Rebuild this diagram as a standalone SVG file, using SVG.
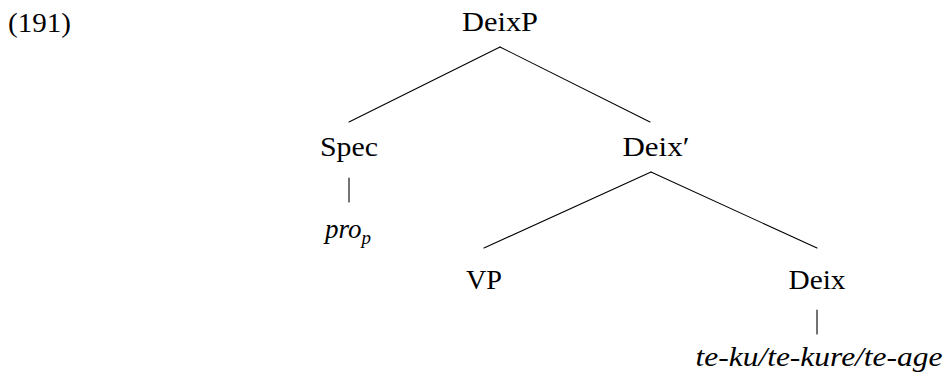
<svg xmlns="http://www.w3.org/2000/svg" width="946" height="376" viewBox="0 0 946 376">
  <style>
    text { font-family: 'Liberation Serif', 'Times New Roman', 'DejaVu Serif', serif; font-size: 27px; fill: #000; text-anchor: middle; }
    .it { font-style: italic; }
    .sub { font-size: 19px; }
    .edge { stroke: #000; stroke-width: 1.1; fill: none; stroke-linecap: round; }
  </style>
  <rect width="946" height="376" fill="#fff"/>

  <text x="8" y="32" style="text-anchor:start" textLength="63" lengthAdjust="spacingAndGlyphs">(191)</text>

  <g id="connectors">
    <line class="edge" x1="500" y1="47" x2="349" y2="122"/>
    <line class="edge" x1="500" y1="47" x2="650" y2="122"/>
    <line class="edge" x1="349" y1="178" x2="349" y2="202"/>
    <line class="edge" x1="651" y1="172" x2="484" y2="248"/>
    <line class="edge" x1="651" y1="172" x2="817" y2="248"/>
    <line class="edge" x1="817" y1="310" x2="817" y2="334"/>
  </g>

  <g id="node-deixp">
    <text x="500" y="31" textLength="76" lengthAdjust="spacingAndGlyphs">DeixP</text>
  </g>
  <g id="node-spec">
    <text x="349" y="156" textLength="58" lengthAdjust="spacingAndGlyphs">Spec</text>
  </g>
  <g id="node-pro">
    <text x="348" y="238"><tspan class="it">pro</tspan><tspan class="it sub" dy="6">p</tspan></text>
  </g>
  <g id="node-deixbar">
    <text x="656" y="156" textLength="67" lengthAdjust="spacingAndGlyphs">Deix′</text>
  </g>
  <g id="node-vp">
    <text x="484" y="289" textLength="36" lengthAdjust="spacingAndGlyphs">VP</text>
  </g>
  <g id="node-deix">
    <text x="817" y="289" textLength="57" lengthAdjust="spacingAndGlyphs">Deix</text>
  </g>
  <g id="node-te">
    <text class="it" x="819" y="366" textLength="247" lengthAdjust="spacingAndGlyphs">te-ku/te-kure/te-age</text>
  </g>
</svg>
